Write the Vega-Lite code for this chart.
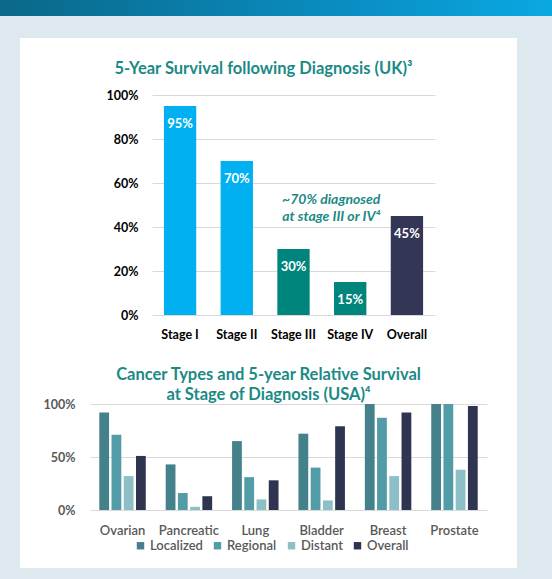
{
  "$schema": "https://vega.github.io/schema/vega-lite/v6.json",
  "background": "#dde9ee",
  "padding": {"left": 0, "top": 0, "right": 0, "bottom": 11},
  "config": {
    "view": {"stroke": null},
    "font": "Lato",
    "axis": {"labelFont": "Lato"},
    "title": {"font": "Lato"}
  },
  "spacing": 22,
  "vconcat": [
    {
      "width": 552,
      "height": 16,
      "data": {"values": [{}]},
      "mark": {
        "type": "rect",
        "color": {
          "gradient": "linear",
          "x1": 0, "x2": 1, "y1": 0, "y2": 0,
          "stops": [
            {"offset": 0, "color": "#0a6888"},
            {"offset": 0.6, "color": "#0a8cc0"},
            {"offset": 1, "color": "#0aa8e2"}
          ]
        }
      },
      "encoding": {}
    },
    {
      "spacing": 0,
      "hconcat": [
        {
          "width": 20,
          "height": 10,
          "data": {"values": [{}]},
          "mark": {"type": "rect", "opacity": 0},
          "encoding": {}
        },
        {
          "spacing": 0,
          "resolve": {"scale": {"color": "independent"}, "legend": {"color": "independent"}},
          "vconcat": [
            {
              "width": 497,
              "height": 312,
              "view": {"fill": "white"},
              "title": {
                "text": "5-Year Survival following Diagnosis (UK)³",
                "offset": -55,
                "anchor": "middle",
                "baseline": "bottom",
                "dx": -5,
                "fontSize": 16.5,
                "fontWeight": "bold",
                "color": "#1b8a85"
              },
              "data": {
                "values": [
                  {"stage": "Stage I", "pct": 95, "grp": "early"},
                  {"stage": "Stage II", "pct": 70, "grp": "early"},
                  {"stage": "Stage III", "pct": 30, "grp": "late"},
                  {"stage": "Stage IV", "pct": 15, "grp": "late"},
                  {"stage": "Overall", "pct": 45, "grp": "all"}
                ]
              },
              "encoding": {
                "x": {
                  "field": "stage",
                  "type": "nominal",
                  "sort": null,
                  "scale": {"range": [132, 415], "paddingInner": 0.43, "paddingOuter": 0.21},
                  "axis": {
                    "title": null,
                    "domain": false,
                    "ticks": false,
                    "labelAngle": 0,
                    "labelFontWeight": "bold",
                    "labelFontSize": 12.5,
                    "labelColor": "#000000",
                    "labelPadding": 0,
                    "offset": -22
                  }
                },
                "y": {
                  "field": "pct",
                  "type": "quantitative",
                  "scale": {"domain": [0, 100], "range": [277, 57]},
                  "axis": {
                    "title": null,
                    "values": [0, 20, 40, 60, 80, 100],
                    "labelExpr": "datum.value + '%'",
                    "domain": false,
                    "ticks": false,
                    "gridColor": "#d9d9d9",
                    "labelFontWeight": "bold",
                    "labelFontSize": 12.5,
                    "labelColor": "#000000",
                    "labelPadding": 4,
                    "offset": -122
                  }
                }
              },
              "layer": [
                {
                  "mark": {"type": "bar"},
                  "encoding": {
                    "color": {
                      "field": "grp",
                      "type": "nominal",
                      "scale": {"domain": ["early", "late", "all"], "range": ["#00b0f0", "#00857c", "#343655"]},
                      "legend": null
                    }
                  }
                },
                {
                  "mark": {
                    "type": "text",
                    "color": "white",
                    "fontWeight": "bold",
                    "fontSize": 13,
                    "baseline": "middle",
                    "dy": 18,
                    "text": {"expr": "datum.pct + '%'"}
                  }
                },
                {
                  "data": {"values": [{"stage": "Stage IV", "pct": 52.3, "note": "~70% diagnosed\nat stage III or IV⁴"}]},
                  "mark": {
                    "type": "text",
                    "color": "#1b8a85",
                    "fontWeight": "bold",
                    "fontStyle": "italic",
                    "fontSize": 14,
                    "lineBreak": "\n",
                    "lineHeight": 17,
                    "baseline": "middle",
                    "align": "center",
                    "dx": -19
                  },
                  "encoding": {"text": {"field": "note"}}
                }
              ]
            },
            {
              "width": 497,
              "height": 218,
              "view": {"fill": "white"},
              "title": {
                "text": ["Cancer Types and 5-year Relative Survival", "at Stage of Diagnosis (USA)⁴"],
                "offset": -69,
                "anchor": "middle",
                "baseline": "bottom",
                "lineHeight": 20,
                "fontSize": 16.5,
                "fontWeight": "bold",
                "color": "#1b8a85"
              },
              "data": {
                "values": [
                  {"cancer": "Ovarian", "stage": "Localized", "pct": 92},
                  {"cancer": "Ovarian", "stage": "Regional", "pct": 71},
                  {"cancer": "Ovarian", "stage": "Distant", "pct": 32},
                  {"cancer": "Ovarian", "stage": "Overall", "pct": 51},
                  {"cancer": "Pancreatic", "stage": "Localized", "pct": 43},
                  {"cancer": "Pancreatic", "stage": "Regional", "pct": 16},
                  {"cancer": "Pancreatic", "stage": "Distant", "pct": 3},
                  {"cancer": "Pancreatic", "stage": "Overall", "pct": 13},
                  {"cancer": "Lung", "stage": "Localized", "pct": 65},
                  {"cancer": "Lung", "stage": "Regional", "pct": 31},
                  {"cancer": "Lung", "stage": "Distant", "pct": 10},
                  {"cancer": "Lung", "stage": "Overall", "pct": 28},
                  {"cancer": "Bladder", "stage": "Localized", "pct": 72},
                  {"cancer": "Bladder", "stage": "Regional", "pct": 40},
                  {"cancer": "Bladder", "stage": "Distant", "pct": 9},
                  {"cancer": "Bladder", "stage": "Overall", "pct": 79},
                  {"cancer": "Breast", "stage": "Localized", "pct": 100},
                  {"cancer": "Breast", "stage": "Regional", "pct": 87},
                  {"cancer": "Breast", "stage": "Distant", "pct": 32},
                  {"cancer": "Breast", "stage": "Overall", "pct": 92},
                  {"cancer": "Prostate", "stage": "Localized", "pct": 100},
                  {"cancer": "Prostate", "stage": "Regional", "pct": 100},
                  {"cancer": "Prostate", "stage": "Distant", "pct": 38},
                  {"cancer": "Prostate", "stage": "Overall", "pct": 98}
                ]
              },
              "mark": {"type": "bar"},
              "encoding": {
                "x": {
                  "field": "cancer",
                  "type": "nominal",
                  "sort": null,
                  "scale": {"range": [70, 467], "paddingInner": 0.3, "paddingOuter": 0.14},
                  "axis": {
                    "title": null,
                    "domain": false,
                    "ticks": false,
                    "labelAngle": 0,
                    "labelFontSize": 13,
                    "labelFontWeight": 600,
                    "labelColor": "#595959",
                    "labelPadding": 0,
                    "offset": -44
                  }
                },
                "xOffset": {
                  "field": "stage",
                  "type": "nominal",
                  "sort": ["Localized", "Regional", "Distant", "Overall"],
                  "scale": {"paddingInner": 0.2, "paddingOuter": 0}
                },
                "y": {
                  "field": "pct",
                  "type": "quantitative",
                  "scale": {"domain": [0, 100], "range": [160, 54]},
                  "axis": {
                    "title": null,
                    "values": [0, 50, 100],
                    "labelExpr": "datum.value + '%'",
                    "domain": false,
                    "ticks": false,
                    "gridColor": "#d9d9d9",
                    "labelFontWeight": "bold",
                    "labelFontSize": 12.5,
                    "labelColor": "#595959",
                    "labelPadding": 4,
                    "offset": -59
                  }
                },
                "color": {
                  "field": "stage",
                  "type": "nominal",
                  "sort": ["Localized", "Regional", "Distant", "Overall"],
                  "scale": {
                    "domain": ["Localized", "Regional", "Distant", "Overall"],
                    "range": ["#45818a", "#519ca6", "#8dbfc7", "#2f3451"]
                  },
                  "legend": {
                    "title": null,
                    "orient": "none",
                    "direction": "horizontal",
                    "legendX": 114,
                    "legendY": 189,
                    "symbolType": "square",
                    "symbolSize": 55,
                    "symbolStrokeWidth": 0,
                    "labelFontSize": 13,
                    "labelFontWeight": 600,
                    "labelColor": "#595959",
                    "labelOffset": 3,
                    "columnPadding": 8
                  }
                }
              }
            }
          ]
        }
      ]
    }
  ]
}
